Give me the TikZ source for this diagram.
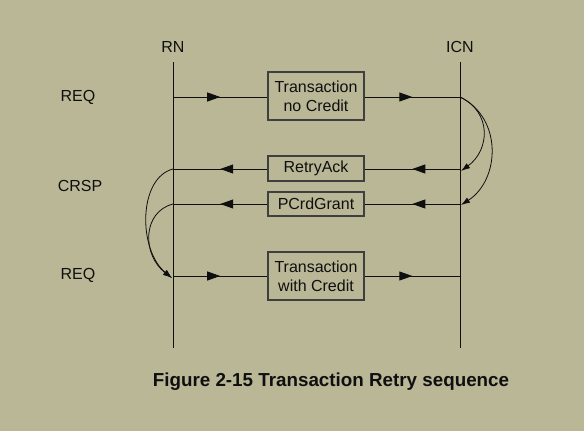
\documentclass[tikz,border=0pt]{standalone}
\usepackage{fontspec}
\setmainfont{Liberation Sans}
\usetikzlibrary{arrows.meta,decorations.markings}
\definecolor{bg}{RGB}{186,183,151}
\definecolor{ink}{RGB}{15,15,15}
\tikzset{
  lbl/.style={font=\fontsize{16}{19}\selectfont, text=ink},
  msgbox/.style={draw=ink!80, line width=1.2pt, minimum width=96pt, align=center, inner sep=2pt, font=\fontsize{16}{19}\selectfont, text=ink},
  lifeline/.style={draw=ink, line width=0.9pt},
  msg/.style={draw=ink, line width=0.9pt, postaction={decorate},
    decoration={markings, mark=at position 0.5 with {\arrow{Triangle[length=13pt,width=9pt]}}}},
  hop/.style={draw=ink, line width=0.8pt, -{Latex[length=9pt,width=6pt]}}
}
\begin{document}
\begin{tikzpicture}[x=1pt,y=-1pt]
\fill[bg] (0,0) rectangle (584,431);
\useasboundingbox (0,0) rectangle (584,431);
% lifeline heads
\node[lbl] (rn) at (173,47) {RN};
\node[lbl] (icn) at (460,47) {ICN};
\coordinate (rnT) at (173,62); \coordinate (rnB) at (173,348);
\coordinate (icnT) at (460,62); \coordinate (icnB) at (460,348);
\draw[lifeline] (rnT) -- (rnB);
\draw[lifeline] (icnT) -- (icnB);
% row points
\coordinate (r1) at (173,97);  \coordinate (i1) at (460,97);
\coordinate (r2) at (173,169); \coordinate (i2) at (460,169);
\coordinate (r3) at (173,204); \coordinate (i3) at (460,204);
\coordinate (r4) at (173,276); \coordinate (i4) at (460,276);
% boxes
\node[msgbox, minimum height=48pt] (b1) at (316,96) {Transaction\\no Credit};
\node[msgbox, minimum height=25pt] (b2) at (316,168.5) {RetryAck};
\node[msgbox, minimum height=24pt] (b3) at (316,204) {PCrdGrant};
\node[msgbox, minimum height=48pt] (b4) at (316,276) {Transaction\\with Credit};
% messages
\draw[msg] (r1) -- (b1.west |- r1);
\draw[msg] (b1.east |- i1) -- (i1);
\draw[msg] (i2) -- (b2.east |- i2);
\draw[msg] (b2.west |- r2) -- (r2);
\draw[msg] (i3) -- (b3.east |- i3);
\draw[msg] (b3.west |- r3) -- (r3);
\draw[msg] (r4) -- (b4.west |- r4);
\draw[msg] (b4.east |- i4) -- (i4);
% hops
\draw[hop] (i1) .. controls (492,112) and (490,150) .. ([xshift=1pt,yshift=-2pt]i2);
\draw[hop] (i1) .. controls (503,118) and (500,180) .. ([xshift=1pt,yshift=-1pt]i3);
\draw[hop] (r2) .. controls (138,178) and (138,250) .. ([xshift=-1pt,yshift=-2pt]r4);
\draw[hop] (r3) .. controls (142,212) and (142,255) .. ([xshift=-1pt,yshift=-2pt]r4);
% left labels
\node[lbl] (q1) at (78,97) {REQ};
\node[lbl] (q2) at (80,186) {CRSP};
\node[lbl] (q3) at (78,275) {REQ};
% caption
\node[font=\bfseries\fontsize{18.8}{22}\selectfont, text=ink] (cap) at (331,382) {Figure 2-15 Transaction Retry sequence};
\end{tikzpicture}
\end{document}
